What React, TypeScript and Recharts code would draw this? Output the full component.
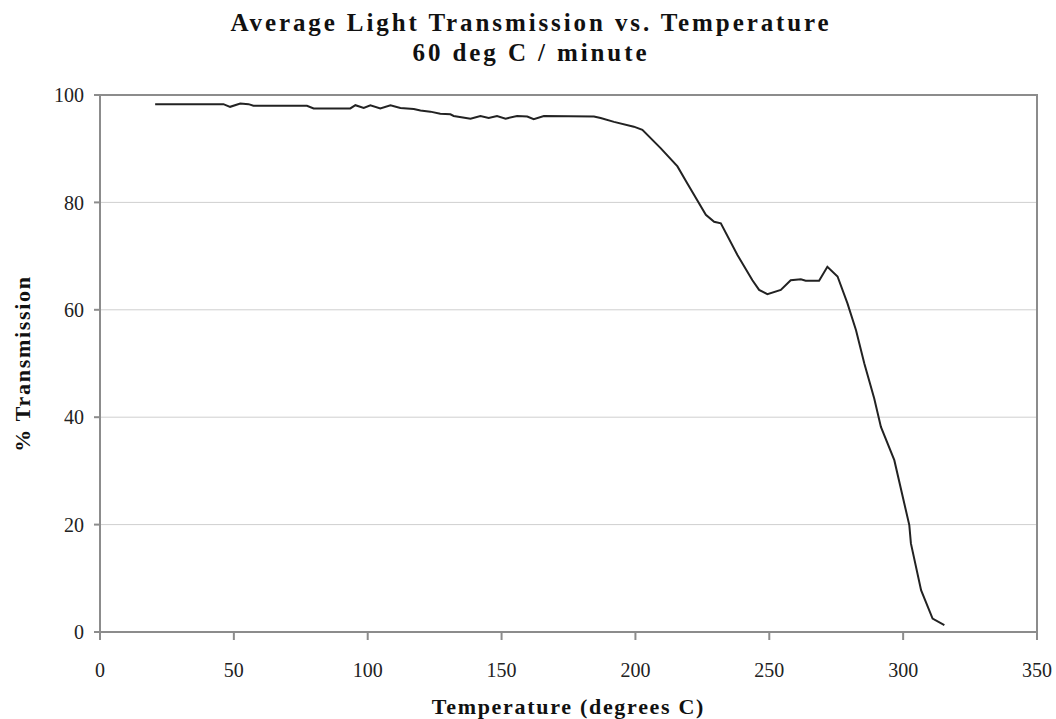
import React from 'react';
import {
  LineChart,
  Line,
  XAxis,
  YAxis,
  CartesianGrid,
  ReferenceArea,
  Label,
} from 'recharts';

// Temperature (deg C)
const temps = [
  20.6, 46.1, 48.6, 52.4, 55.5, 57.3, 77.3, 79.8, 93.5, 95.4, 98.5, 101, 104.7, 108.5,
  112.2, 117.2, 119.7, 123.4, 127.1, 130.9, 132.1, 138.4, 142.1, 145.2, 148.3, 151.5,
  155.8, 159.6, 162.0, 165.8, 184.5, 187, 192, 199.4, 202.6, 209.4, 215.7, 219.4,
  226.3, 229.4, 231.9, 238.1, 243.7, 246.2, 249.3, 254.3, 258.0, 261.8, 263.6, 268.6,
  271.7, 275.5, 279.2, 282.4, 285.5, 289.2, 291.7, 296.7, 302.3, 302.9, 306.7, 311.0,
  315.4,
];

// % transmission at each temperature
const transmission = [
  98.3, 98.3, 97.8, 98.4, 98.3, 98.0, 98.0, 97.5, 97.5, 98.1, 97.6, 98.1, 97.5, 98.1,
  97.6, 97.4, 97.1, 96.9, 96.5, 96.4, 96.1, 95.6, 96.1, 95.7, 96.1, 95.6,
  96.1, 96.0, 95.5, 96.1, 96.0, 95.7, 95.0, 94.1, 93.5, 90.1, 86.7, 83.5,
  77.7, 76.4, 76.1, 70.2, 65.5, 63.7, 62.9, 63.7, 65.5, 65.7, 65.4, 65.4,
  68.0, 66.2, 61.2, 56.2, 50.0, 43.5, 38.2, 32.0, 19.9, 16.5, 7.8, 2.5,
  1.3,
];

const xTicks = [0, 50, 100, 150, 200, 250, 300, 350];
const yTicks = [0, 20, 40, 60, 80, 100];

const data = temps.map((t, i) => ({ t, p: transmission[i] }));

const FONT = '"Liberation Serif", "Times New Roman", serif';
const FRAME = '#8c8c8c';

export default function App() {
  return (
    <div style={{ position: 'absolute', left: 0, top: 0, width: 1056, height: 719, background: '#fff', fontFamily: FONT }}>
      <style>{`body{margin:0}`}</style>
      <svg width={1056} height={95} style={{ position: 'absolute', left: 0, top: 0 }}>
        <text x={531} y={31} textAnchor="middle" fontFamily={FONT} fontWeight="bold" fontSize={25} letterSpacing={2.9} fill="#111">
          Average Light Transmission vs. Temperature
        </text>
        <text x={531} y={61} textAnchor="middle" fontFamily={FONT} fontWeight="bold" fontSize={25} letterSpacing={2.9} fill="#111">
          60 deg C / minute
        </text>
      </svg>
      <div style={{ position: 'absolute', left: 0, top: 0 }}>
        <LineChart
          width={1056}
          height={719}
          data={data}
          margin={{ top: 95, right: 19, bottom: 0, left: 0 }}
        >
          <CartesianGrid vertical={false} stroke="#cfcfcf" strokeWidth={1} />
          <XAxis
            dataKey="t"
            type="number"
            domain={[0, 350]}
            ticks={xTicks}
            height={87}
            tickSize={8}
            tickMargin={23}
            stroke={FRAME}
            strokeWidth={2}
            tick={{ fontFamily: FONT, fontSize: 20, fill: '#222' }}
          >
            <Label
              value="Temperature (degrees C)"
              position="insideBottom"
              offset={5}
              style={{ fontFamily: FONT, fontWeight: 'bold', fontSize: 22, letterSpacing: 1.7, fill: '#111' }}
            />
          </XAxis>
          <YAxis
            domain={[0, 100]}
            ticks={yTicks}
            width={100}
            tickSize={6}
            tickMargin={10}
            stroke={FRAME}
            strokeWidth={2}
            tick={{ fontFamily: FONT, fontSize: 20, fill: '#222' }}
          >
            <Label
              value="% Transmission"
              angle={-90}
              position="insideLeft"
              offset={22}
              style={{ textAnchor: 'middle', fontFamily: FONT, fontWeight: 'bold', fontSize: 22, letterSpacing: 1.7, fill: '#111' }}
            />
          </YAxis>
          <ReferenceArea x1={0} x2={350} y1={0} y2={100} fill="none" stroke={FRAME} strokeWidth={2} />
          <Line
            type="linear"
            dataKey="p"
            stroke="#222"
            strokeWidth={2}
            dot={false}
            isAnimationActive={false}
          />
        </LineChart>
      </div>
    </div>
  );
}
